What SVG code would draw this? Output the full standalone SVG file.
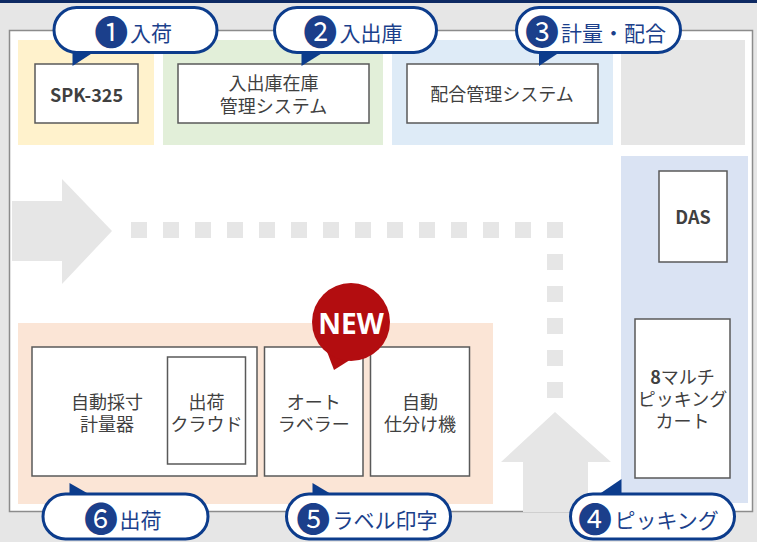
<svg xmlns="http://www.w3.org/2000/svg" width="757" height="542" viewBox="0 0 757 542">
<style>
.box{fill:#fff;stroke:#595959;stroke-width:1.5}
.t{font-family:"Noto Sans CJK JP","Noto Sans",sans-serif;font-size:18px;fill:#404040;text-anchor:middle}
.b{font-weight:bold}
.pill{fill:#fff;stroke:#0c3c8c;stroke-width:3}
.tail{fill:#0c3c8c}
.ct{font-family:"Noto Sans CJK JP","DejaVu Sans",sans-serif;font-size:21px;fill:#1b3f8b}
.n{font-size:34px;text-anchor:middle}
.dot{fill:#e6e6e6}
</style>
<rect x="0" y="0" width="757" height="542" fill="#e6e6e6"/>
<rect x="0" y="0" width="757" height="3" fill="#0e2a63"/>
<rect x="9.5" y="30.5" width="743" height="481" fill="#fff" stroke="#8c8c8c" stroke-width="1.5"/>

<g id="zones">
<rect x="18" y="40" width="136" height="105" fill="#fff2cc"/>
<rect x="163" y="40" width="220" height="105" fill="#e2efd9"/>
<rect x="392" y="40" width="221" height="105" fill="#deebf7"/>
<rect x="621" y="40" width="124" height="105" fill="#e6e6e6"/>
<rect x="621" y="156" width="127" height="347" fill="#dae3f3"/>
<rect x="18" y="323" width="475" height="181" fill="#fbe5d6"/>
</g>

<g id="flow">
<polygon points="12,201 62,201 62,179 112,231 62,284 62,261 12,261" fill="#e6e6e6"/>
<polygon points="523,512 523,462 501,462 555,412 611,462 588,462 588,512" fill="#e6e6e6"/>
<g class="dot">
<rect x="131" y="222" width="16" height="16"/><rect x="163" y="222" width="16" height="16"/>
<rect x="195" y="222" width="16" height="16"/><rect x="227" y="222" width="16" height="16"/>
<rect x="259" y="222" width="16" height="16"/><rect x="291" y="222" width="16" height="16"/>
<rect x="323" y="222" width="16" height="16"/><rect x="355" y="222" width="16" height="16"/>
<rect x="387" y="222" width="16" height="16"/><rect x="419" y="222" width="16" height="16"/>
<rect x="451" y="222" width="16" height="16"/><rect x="483" y="222" width="16" height="16"/>
<rect x="515" y="222" width="16" height="16"/><rect x="547" y="222" width="16" height="16"/>
<rect x="547" y="254" width="16" height="16"/><rect x="547" y="286" width="16" height="16"/>
<rect x="547" y="318" width="16" height="16"/><rect x="547" y="350" width="16" height="16"/>
<rect x="547" y="382" width="16" height="16"/>
</g>
</g>

<g id="spk">
<rect class="box" x="35" y="64" width="103" height="59"/>
<text class="t b" x="86.5" y="101.5">SPK-325</text>
</g>
<g id="wms">
<rect class="box" x="178" y="64" width="191" height="59"/>
<text class="t"><tspan x="273.5" y="89.5">入出庫在庫</tspan><tspan x="273.5" y="112.5">管理システム</tspan></text>
</g>
<g id="mix">
<rect class="box" x="407" y="64" width="191" height="59"/>
<text class="t" x="502" y="100.5">配合管理システム</text>
</g>
<g id="das">
<rect class="box" x="659" y="171" width="68" height="91"/>
<text class="t b" x="693" y="224">DAS</text>
</g>
<g id="cart">
<rect class="box" x="635" y="319" width="95" height="159"/>
<text class="t"><tspan x="682.5" y="384"><tspan class="b">8</tspan>マルチ</tspan><tspan x="682.5" y="406">ピッキング</tspan><tspan x="682.5" y="428">カート</tspan></text>
</g>
<g id="measure">
<rect class="box" x="32" y="347" width="225" height="129"/>
<text class="t"><tspan x="107" y="408.5">自動採寸</tspan><tspan x="107" y="430.5">計量器</tspan></text>
</g>
<g id="cloud">
<rect class="box" x="167.5" y="357" width="78" height="107"/>
<text class="t"><tspan x="206.5" y="408.5">出荷</tspan><tspan x="206.5" y="430.5">クラウド</tspan></text>
</g>
<g id="labeler">
<rect class="box" x="264.5" y="347" width="98.5" height="129"/>
<text class="t"><tspan x="313.7" y="408.5">オート</tspan><tspan x="313.7" y="430.5">ラベラー</tspan></text>
</g>
<g id="sorter">
<rect class="box" x="370.5" y="347" width="99" height="129"/>
<text class="t"><tspan x="420" y="408.5">自動</tspan><tspan x="420" y="430.5">仕分け機</tspan></text>
</g>

<g id="new">
<polygon points="326,349 353,358 334,370" fill="#b30d10"/>
<circle cx="351" cy="322" r="39" fill="#b30d10"/>
<text x="351" y="333.5" font-family="Noto Sans, sans-serif" font-weight="bold" font-size="28" fill="#fff" text-anchor="middle">NEW</text>
</g>

<g id="c1">
<polygon class="tail" points="72.5,50 72.5,66 97,50"/>
<rect class="pill" x="54" y="7.5" width="163" height="45" rx="22.5"/>
<text class="ct"><tspan class="n" x="111.3" y="45">❶</tspan><tspan x="130" y="40.5">入荷</tspan></text>
</g>
<g id="c2">
<polygon class="tail" points="301.5,50 301.5,66 327,50"/>
<rect class="pill" x="274.5" y="7.5" width="162" height="45" rx="22.5"/>
<text class="ct"><tspan class="n" x="320.3" y="45">❷</tspan><tspan x="339.5" y="40.5">入出庫</tspan></text>
</g>
<g id="c3">
<polygon class="tail" points="539,50 539,66 563,50"/>
<rect class="pill" x="516.5" y="7.5" width="164" height="45" rx="22.5"/>
<text class="ct"><tspan class="n" x="542" y="45">❸</tspan><tspan x="561" y="40.5">計量・配合</tspan></text>
</g>
<g id="c6">
<polygon class="tail" points="69.5,483 69.5,497 94,497"/>
<rect class="pill" x="43" y="494" width="165" height="45" rx="22.5"/>
<text class="ct"><tspan class="n" x="101" y="532">❻</tspan><tspan x="119.5" y="527.5">出荷</tspan></text>
</g>
<g id="c5">
<polygon class="tail" points="312.5,483 312.5,497 336,497"/>
<rect class="pill" x="286.5" y="494" width="164" height="45" rx="22.5"/>
<text class="ct"><tspan class="n" x="313.3" y="532">❺</tspan><tspan x="332.5" y="527.5">ラベル印字</tspan></text>
</g>
<g id="c4">
<polygon class="tail" points="621.5,479 621.5,497 595,497"/>
<rect class="pill" x="570.5" y="494" width="164" height="45" rx="22.5"/>
<text class="ct"><tspan class="n" x="595" y="532">❹</tspan><tspan x="614.5" y="527.5">ピッキング</tspan></text>
</g>
</svg>
